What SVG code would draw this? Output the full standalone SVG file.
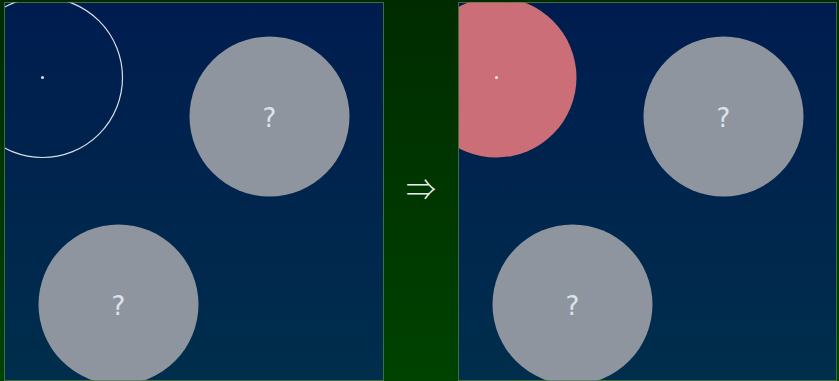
<svg xmlns="http://www.w3.org/2000/svg" width="839" height="381" viewBox="0 0 839 381">
<defs>
<linearGradient id="bg" x1="0" y1="0" x2="0" y2="1">
<stop offset="0" stop-color="#002b00"/>
<stop offset="1" stop-color="#004200"/>
</linearGradient>
<linearGradient id="pg" x1="0" y1="0" x2="0" y2="1">
<stop offset="0" stop-color="#001c4f"/>
<stop offset="1" stop-color="#002e4c"/>
</linearGradient>
<clipPath id="cl"><rect x="5" y="2.5" width="378" height="378"/></clipPath>
<clipPath id="cr"><rect x="459" y="2.5" width="378" height="378"/></clipPath>
<style>
.panel{fill:url(#pg);stroke:#3f6e3f;stroke-width:1}
.unk{fill:#8e959e}
.q{fill:#dde3ea;font-family:"DejaVu Sans",sans-serif;font-size:26px;text-anchor:middle}
</style>
</defs>
<rect width="839" height="381" fill="url(#bg)"/>
<g id="left-panel">
<rect class="panel" x="4.5" y="2.5" width="379" height="378"/>
<g clip-path="url(#cl)">
<circle cx="42.5" cy="77.5" r="80" fill="none" stroke="#d8dde6" stroke-width="1.2"/>
<circle cx="42.5" cy="77.5" r="1.5" fill="#d8dde6"/>
</g>
<g id="l-node1"><circle class="unk" cx="269.5" cy="116.5" r="80"/><text class="q" x="269.5" y="126.5">?</text></g>
<g id="l-node2" clip-path="url(#cl)"><circle class="unk" cx="118.5" cy="304.5" r="80"/><text class="q" x="118.5" y="314.5">?</text></g>
</g>
<g id="arrow"><text x="421" y="200" fill="#e8ece8" font-family="Noto Sans CJK JP,sans-serif" font-weight="300" font-size="30" text-anchor="middle">⇒</text></g>
<g id="right-panel">
<rect class="panel" x="458.5" y="2.5" width="378" height="378"/>
<g id="r-node0" clip-path="url(#cr)">
<circle cx="496.5" cy="77.5" r="80" fill="#cc6e77"/>
<circle cx="496.5" cy="77.5" r="1.5" fill="#f4e6ea"/>
</g>
<g id="r-node1"><circle class="unk" cx="723.5" cy="116.5" r="80"/><text class="q" x="723.5" y="126.5">?</text></g>
<g id="r-node2" clip-path="url(#cr)"><circle class="unk" cx="572.5" cy="304.5" r="80"/><text class="q" x="572.5" y="314.5">?</text></g>
</g>
</svg>
